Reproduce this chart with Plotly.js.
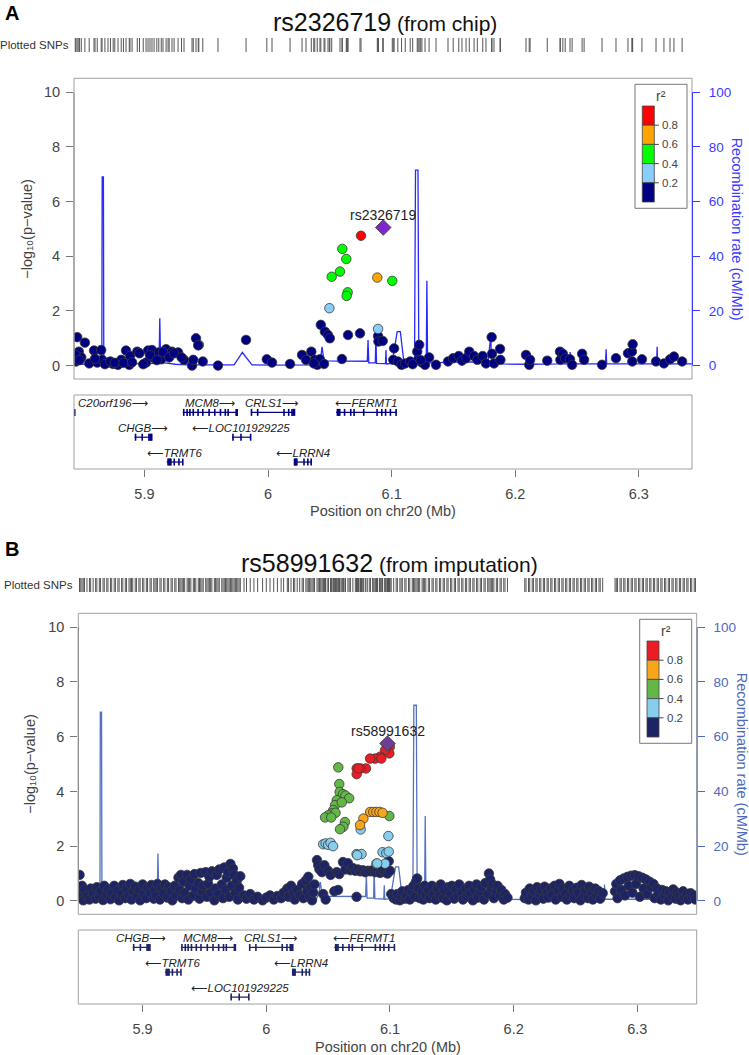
<!DOCTYPE html>
<html><head><meta charset="utf-8">
<script src="https://cdn.plot.ly/plotly-3.0.1.min.js"></script>
<style>html,body{margin:0;padding:0;background:#fff}#chart{width:749px;height:1055px}</style>
</head><body><div id="chart"></div>
<script>
// ---------------- DATA ----------------
// Panel A (rs2326719, from chip): -log10(p) by position (Mb), grouped by r2 bin
const aNavyPos = [5.8446,5.8456,5.8469,5.8489,5.8518,5.8553,5.8592,5.8618,5.8650,5.8657,
 5.8705,5.8747,5.8786,5.8812,5.8851,5.8877,5.8883,5.8942,5.9013,5.9029,
 5.9061,5.9078,5.9116,5.9136,5.9175,5.9191,5.9223,5.9272,5.9320,5.9385,
 5.9395,5.9417,5.9435,5.9472,5.9595,5.9822,5.9990,6.0032,6.0178,6.0275,
 6.0307,6.0350,6.0378,6.0398,6.0420,6.0427,6.0453,6.0460,6.0485,6.0500,
 6.0598,6.0647,6.0744,6.0890,6.0893,6.0928,6.1013,6.1020,6.1050,6.1080,
 6.1110,6.1150,6.1207,6.1214,6.1223,6.1245,6.1270,6.1303,6.1359,6.1456,
 6.1498,6.1543,6.1569,6.1602,6.1628,6.1667,6.1693,6.1737,6.1763,6.1809,
 6.1812,6.1828,6.1877,6.1880,6.2087,6.2113,6.2120,6.2259,6.2362,6.2365,
 6.2385,6.2404,6.2443,6.2460,6.2541,6.2557,6.2702,6.2815,6.2912,6.2944,
 6.2947,6.2950,6.3025,6.3139,6.3203,6.3252,6.3284,6.3350,
 5.8440,5.8475,5.8600,5.8680,5.8725,5.8760,5.8830,5.8900,5.8960,5.8990,
 5.9045,5.9100,5.9150,5.9200,5.9240,5.9300,6.0370,6.1170,6.1235];
const aNavyLogP = [0.15,1.04,0.51,0.30,0.84,0.08,0.55,0.11,0.57,0.21,
 0.11,0.06,0.03,0.21,0.55,0.03,0.35,0.51,0.11,0.55,
 0.57,0.27,0.48,0.23,0.60,0.39,0.51,0.48,0.21,0.00,
 0.21,1.00,0.74,0.15,0.00,0.94,0.23,0.11,0.06,0.39,
 0.21,0.51,0.21,0.03,0.23,1.49,0.06,1.24,1.12,1.00,
 0.24,1.12,1.18,1.08,0.88,0.90,0.21,0.63,0.15,0.03,
 0.08,0.15,0.51,0.21,0.76,0.11,0.03,0.30,0.03,0.15,
 0.27,0.35,0.18,0.27,0.51,0.35,0.21,0.35,0.08,1.04,
 0.43,0.08,0.61,0.21,0.39,0.03,0.21,0.18,0.51,0.21,
 0.43,0.27,0.23,0.03,0.43,0.21,0.03,0.27,0.45,0.51,
 0.15,0.78,0.23,0.15,0.08,0.23,0.33,0.15,
 0.40,0.20,0.25,0.05,0.15,0.10,0.10,0.12,0.45,0.05,
 0.38,0.20,0.50,0.30,0.45,0.30,0.08,0.05,0.20];
const aLightBluePos = [6.0496,6.0890];
const aLightBlueLogP = [2.10,1.34];
const aGreenPos = [6.0601,6.0633,6.0582,6.0515,6.1005,6.0644,6.0636];
const aGreenLogP = [4.27,3.90,3.44,3.25,3.10,2.68,2.55];
const aOrangePos = [6.0884];
const aOrangeLogP = [3.22];
const aRedPos = [6.0752];
const aRedLogP = [4.75];
const aGreyPos = [5.9440];
const aGreyLogP = [0.76];
const aIndexName = "rs2326719", aIndexPos = 6.0932, aIndexLogP = 5.05;

// Panel B (rs58991632, from imputation)
const bNavyPos = [
 5.849,5.849,5.850,5.851,5.852,5.853,5.855,5.857,5.858,5.860,5.862,5.863,5.865,5.866,5.868,5.869,
 5.871,5.872,5.874,5.875,5.877,5.878,5.880,5.881,5.883,5.884,5.886,5.887,5.889,5.890,
 5.891,5.892,5.894,5.895,5.897,5.898,5.900,5.901,5.903,5.904,5.906,5.907,5.909,5.910,
 5.911,5.912,5.914,5.915,5.917,5.918,5.920,5.921,5.923,5.924,5.926,5.927,5.929,5.930,
 5.931,5.932,5.933,5.934,5.936,5.937,5.938,5.939,5.941,5.942,5.943,5.945,5.946,5.947,5.948,5.949,
 5.951,5.952,5.953,5.954,5.955,5.956,5.958,5.959,5.960,5.961,5.962,5.964,5.965,5.966,5.967,5.968,5.969,5.970,5.971,5.972,5.973,5.974,5.975,5.976,5.977,5.978,5.979,
 5.982,5.984,5.987,5.990,5.993,5.997,6.000,6.003,6.006,6.009,6.012,6.014,
 6.017,6.018,6.020,6.022,6.023,6.025,6.027,6.029,6.030,6.032,6.033,6.034,6.035,6.036,6.037,6.038,6.039,
 6.041,6.042,6.043,6.044,6.045,6.046,6.047,6.048,6.050,6.052,6.055,6.057,6.058,6.059,6.062,6.064,6.066,6.068,6.070,6.072,6.073,6.074,6.076,6.078,6.080,6.082,6.084,6.086,6.088,6.090,6.092,6.094,6.096,6.098,6.099,6.100,6.101,6.103,
 6.105,6.106,6.108,6.109,6.110,6.112,6.113,6.115,6.116,6.118,6.119,6.120,6.121,6.122,6.123,6.124,6.126,6.127,6.128,6.129,
 6.131,6.132,6.134,6.135,6.137,6.138,6.140,6.141,6.143,6.144,6.146,6.147,6.149,6.150,6.152,6.153,6.155,6.156,6.158,6.159,
 6.161,6.162,6.164,6.165,6.167,6.168,6.170,6.171,6.173,6.174,6.176,6.177,6.179,6.180,6.181,6.182,6.183,6.184,6.186,6.187,6.189,6.190,6.192,6.193,6.195,
 6.209,6.210,6.212,6.213,6.215,6.216,6.218,6.219,6.221,6.222,6.224,6.225,6.227,6.228,6.230,6.231,6.233,6.234,6.236,6.237,6.239,
 6.240,6.242,6.243,6.245,6.246,6.248,6.249,6.251,6.252,6.254,6.255,6.257,6.258,6.260,6.261,6.263,6.264,6.266,6.267,6.269,6.270,6.272,
 6.282,6.283,6.284,6.286,6.287,6.289,6.290,6.292,6.293,6.295,6.296,6.298,6.299,6.301,6.302,6.304,6.305,6.307,6.308,6.310,6.311,6.313,6.314,
 6.316,6.317,6.319,6.320,6.322,6.323,6.325,6.326,6.328,6.329,6.331,6.332,6.334,6.335,6.337,6.338,6.340,6.341,6.343,6.344,6.346,6.347];
const bNavyLogP = [
 0.95,0.30,0.12,0.55,0.02,0.40,0.18,0.05,0.45,0.25,0.08,0.50,0.15,0.35,0.03,0.55,
 0.20,0.42,0.06,0.30,0.55,0.12,0.38,0.02,0.25,0.58,0.10,0.45,0.20,0.62,
 0.05,0.35,0.52,0.15,0.40,0.02,0.60,0.25,0.10,0.48,0.30,0.58,0.08,0.40,
 0.18,0.62,0.05,0.45,0.28,0.60,0.12,0.50,0.35,0.02,0.55,0.20,0.85,0.40,
 0.95,0.10,0.70,0.30,0.95,0.05,0.55,0.78,0.20,0.98,0.45,0.65,0.08,1.02,0.35,0.55,
 1.05,0.15,0.62,0.88,0.30,1.08,0.02,0.45,0.95,0.25,1.15,0.60,0.10,1.22,0.40,0.85,1.05,0.15,1.35,0.55,1.18,0.95,0.30,0.72,0.05,0.48,0.90,
 0.20,0.08,0.25,0.05,0.15,0.02,0.12,0.20,0.05,0.18,0.10,0.30,
 0.45,0.15,0.55,0.30,0.05,0.40,0.20,0.62,0.10,0.75,0.35,0.88,0.15,0.50,0.02,0.30,0.60,
 1.49,1.30,1.15,1.22,1.05,0.25,1.30,0.05,1.10,0.95,0.35,1.05,0.40,0.98,1.42,1.15,1.38,1.12,1.20,1.10,0.15,1.15,1.08,1.12,1.05,1.10,1.08,1.12,1.05,1.10,1.02,1.12,1.05,1.00,1.45,1.10,0.25,0.10,
 0.05,0.25,0.02,0.15,0.35,0.08,0.20,0.40,0.05,0.30,0.55,0.15,0.70,0.82,0.45,0.10,0.35,0.05,0.55,0.20,
 0.40,0.10,0.55,0.25,0.05,0.45,0.20,0.60,0.10,0.38,0.02,0.50,0.25,0.55,0.08,0.42,0.18,0.60,0.30,0.05,
 0.45,0.15,0.55,0.28,0.02,0.40,0.60,0.12,0.35,0.50,0.05,0.65,0.25,1.00,0.78,0.45,0.60,0.10,0.35,0.55,0.20,0.40,0.05,0.25,0.12,
 0.10,0.30,0.05,0.45,0.18,0.35,0.02,0.50,0.25,0.40,0.08,0.52,0.30,0.12,0.45,0.22,0.55,0.05,0.38,0.62,0.15,
 0.45,0.28,0.05,0.55,0.20,0.40,0.10,0.48,0.30,0.02,0.58,0.22,0.40,0.10,0.52,0.30,0.05,0.45,0.20,0.35,0.08,0.28,
 0.35,0.62,0.10,0.75,0.40,0.82,0.20,0.88,0.55,0.92,0.30,0.94,0.62,0.90,0.15,0.85,0.45,0.78,0.25,0.70,0.50,0.62,0.10,
 0.45,0.25,0.05,0.40,0.18,0.35,0.02,0.30,0.15,0.42,0.08,0.30,0.20,0.02,0.35,0.12,0.25,0.05,0.28,0.15,0.20,0.05];
const bLightBluePos = [6.046,6.048,6.050,6.052,6.054,6.0763,6.0987,6.073,6.077,6.094,6.097,6.099,6.089,6.096,6.0735,6.0897];
const bLightBlueLogP = [2.07,2.10,2.05,2.12,2.00,2.61,2.37,1.71,1.71,1.78,1.75,1.80,1.36,1.36,1.67,1.37];
const bGreenPos = [6.0582,6.0590,6.0593,6.0620,6.0640,6.0670,6.0570,6.0556,6.0542,6.0529,6.0502,6.0475,6.0560,6.0636,6.0623,6.0596,6.0995,6.0610,6.0525];
const bGreenLogP = [4.88,4.27,3.98,3.90,3.85,3.75,3.68,3.50,3.32,3.20,3.13,3.05,3.22,2.88,2.71,2.62,3.10,3.60,3.05];
const bOrangePos = [6.0840,6.0865,6.0890,6.0915,6.0940,6.0785,6.0758];
const bOrangeLogP = [3.25,3.25,3.25,3.25,3.22,3.01,2.77];
const bRedPos = [6.0999,6.0995,6.0960,6.0920,6.0879,6.0839,6.0930,6.0806,6.0763,6.0731,6.0731,6.0745];
const bRedLogP = [5.63,5.39,5.51,5.27,5.20,5.20,5.20,4.84,4.84,4.84,4.63,4.84];
const bIndexName = "rs58991632", bIndexPos = 6.098, bIndexLogP = 5.75;

// Recombination rate (cM/Mb) along chr20
const recombPos = [5.843,5.852,5.860,5.8655,5.8658,5.8668,5.8671,5.875,5.884,5.895,5.905,5.9118,5.9124,5.9131,5.918,5.925,5.935,5.950,5.965,5.9725,5.9792,5.987,6.000,6.020,6.040,6.0425,6.0437,6.0452,6.060,6.075,6.0803,6.0809,6.0815,6.0868,6.0872,6.0878,6.0950,6.0954,6.0958,6.1003,6.1045,6.1070,6.1100,6.1185,6.1193,6.1213,6.1220,6.1280,6.1285,6.1291,6.140,6.160,6.178,6.1802,6.1808,6.190,6.210,6.2340,6.2346,6.2352,6.2440,6.2444,6.2450,6.2730,6.2735,6.2740,6.3144,6.3148,6.3152,6.343];
const recombRate = [0.6,0.5,0.7,0.6,69,69,0.8,0.6,0.4,0.7,0.6,0.8,17.3,1.2,0.9,0.5,0.3,0.2,0.2,0.3,4.8,0.3,0.2,0.2,0.3,2.5,6.9,1.7,1.7,1.8,1.6,9.4,1.0,1.0,11.8,0.8,0.7,5.7,0.6,0.8,12.4,12.4,1.0,1.0,71.5,71.5,1.0,1.0,31,1.0,1.2,1.4,1.3,11,1.2,0.6,0.5,0.6,5,0.7,0.6,5,0.6,0.6,6,0.6,0.6,6.9,0.6,0.6];

// Genes
const geneNames  = ["C20orf196","CHGB","TRMT6","MCM8","LOC101929225","CRLS1","LRRN4","FERMT1"];
const geneStart  = [5.800,5.892,5.918,5.931,5.971,5.986,6.021,6.055];
const geneEnd    = [5.8438,5.906,5.931,5.975,5.986,6.021,6.035,6.104];
const geneStrand = ["+","+","-","+","-","+","-","-"];
const geneRowA   = [1,2,3,1,2,1,3,1];
const geneRowB   = [1,1,2,1,3,1,2,1];
const geneExons  = [
 [5.8436],
 [5.8928,5.8982,5.9036,5.9045,5.9052,5.9059],
 [5.9191,5.9200,5.9207,5.9214,5.9241,5.9279,5.9310],
 [5.9318,5.9345,5.9368,5.9395,5.9434,5.9472,5.9523,5.9569,5.9615,5.9654,5.9677,5.9742,5.9750],
 [5.9716,5.9781,5.9859],
 [5.9866,5.9916,6.0129,6.0167,6.0194,6.0204,6.0214],
 [6.0214,6.0220,6.0227,6.0233,6.0291,6.0322,6.0349],
 [6.0561,6.0570,6.0580,6.0619,6.0669,6.0696,6.0774,6.0882,6.0920,6.0951,6.0990,6.1036]
];

// r2 legend
const ldBreakLabels = ["0.8","0.6","0.4","0.2"];

// ---------------- LAYOUT / STYLE ----------------
const W = 749, H = 1055;
const FONT = "Liberation Sans, Arial, Helvetica, sans-serif";
const GFONT = "Liberation Sans, DejaVu Sans, sans-serif";
const px = v => v / W;
const py = v => 1 - v / H;
const axName = (id) => (id.length === 1 ? id + 'axis' : id[0] + 'axis' + id.slice(1));
const ctx = document.createElement('canvas').getContext('2d');
const textW = (t, size) => { ctx.font = size + 'px "Liberation Sans", Arial, sans-serif'; return ctx.measureText(t).width; };

const panels = [
 {letter:'A', name:aIndexName, sub:'(from chip)', L:74, R:692, T:78.3, B:379, rugT:38, rugB:52, gT:395, gB:469,
  letterY:13, titleY:22, rugLabelY:45, xr:[5.843,6.343], ytitleX:27, rtitleX:737, xtitleY:511,
  ids:{x:'x',yr:'y',yp:'y2',xrug:'x2',yrug:'y3',xg:'x3',yg:'y4'},
  recColor:'rgb(40,40,255)', axBlue:'rgb(60,60,255)', geneColor:'#000080',
  colors:['#000080','#87CEFA','#00FF00','#FFA500','#FF0000'], grey:'#8c8c8c', purple:'#7D26CD',
  cats:[[aNavyPos,aNavyLogP],[aLightBluePos,aLightBlueLogP],[aGreenPos,aGreenLogP],[aOrangePos,aOrangeLogP],[aRedPos,aRedLogP]],
  greyCat:[aGreyPos,aGreyLogP], idx:[aIndexPos,aIndexLogP], rows:geneRowA},
 {letter:'B', name:bIndexName, sub:'(from imputation)', L:78.3, R:696.7, T:613.3, B:914.3, rugT:578, rugB:592, gT:930, gB:1004,
  letterY:549, titleY:563, rugLabelY:585, xr:[5.848,6.348], ytitleX:30, rtitleX:742, xtitleY:1047,
  ids:{x:'x4',yr:'y5',yp:'y6',xrug:'x5',yrug:'y7',xg:'x6',yg:'y8'},
  recColor:'rgb(84,114,192)', axBlue:'rgb(80,106,185)', geneColor:'#1d2466',
  colors:['#1d2466','#87CDED','#62B746','#F8A51B','#EC1C24'], grey:'#8c8c8c', purple:'#6E3D96',
  cats:[[bNavyPos,bNavyLogP],[bLightBluePos,bLightBlueLogP],[bGreenPos,bGreenLogP],[bOrangePos,bOrangeLogP],[bRedPos,bRedLogP]],
  greyCat:null, idx:[bIndexPos,bIndexLogP], rows:geneRowB}
];

const traces = [], shapes = [], annotations = [];
const layout = {width:W, height:H, margin:{l:0,r:0,t:0,b:0}, showlegend:false,
  paper_bgcolor:'#fff', plot_bgcolor:'rgba(0,0,0,0)', font:{family:FONT, color:'#444'}};

panels.forEach(P => {
  const I = P.ids;
  const xdom = [px(P.L), px(P.R)];
  layout[axName(I.x)] = {domain:xdom, range:P.xr, anchor:I.yr, showticklabels:false, ticks:'', showgrid:false, zeroline:false, showline:false, fixedrange:true};
  layout[axName(I.yr)] = {domain:[py(P.B), py(P.T)], range:[-4.9,105.1], anchor:I.x, side:'right',
    tickvals:[0,20,40,60,80,100], ticks:'outside', ticklen:7, tickcolor:P.axBlue, tickwidth:1,
    tickfont:{size:13.5, color:P.axBlue, family:FONT}, ticklabelstandoff:6, showgrid:false, zeroline:false, showline:false};
  layout[axName(I.yp)] = {range:[-0.49,10.51], overlaying:I.yr, anchor:I.x, side:'left',
    tickvals:[0,2,4,6,8,10], ticks:'outside', ticklen:7, tickcolor:'#777', tickwidth:1,
    tickfont:{size:14.5, color:'#444', family:FONT}, ticklabelstandoff:3, showgrid:false, zeroline:false, showline:false};
  layout[axName(I.xrug)] = {domain:xdom, range:P.xr, anchor:I.yrug, visible:false};
  layout[axName(I.yrug)] = {domain:[py(P.rugB), py(P.rugT)], range:[0,1], anchor:I.xrug, visible:false};
  layout[axName(I.xg)] = {domain:xdom, range:P.xr, anchor:I.yg, side:'bottom',
    tickvals:[5.9,6.0,6.1,6.2,6.3], ticktext:['5.9','6','6.1','6.2','6.3'], ticks:'outside', ticklen:7,
    tickcolor:'#777', tickfont:{size:14.5, color:'#444', family:FONT}, ticklabelstandoff:5,
    showgrid:false, zeroline:false, showline:false};
  layout[axName(I.yg)] = {domain:[py(P.gB), py(P.gT)], range:[3.28,0.30], anchor:I.xg, visible:false};

  // recombination line
  traces.push({type:'scatter', mode:'lines', x:recombPos, y:recombRate, xaxis:I.x, yaxis:I.yr,
    line:{color:P.recColor, width:1.3}, hoverinfo:'skip'});
  // SNPs
  const mk = (c) => ({size:9.5, color:c, line:{color:'#3a3a3a', width:0.8}});
  if (P.greyCat) traces.push({type:'scatter', mode:'markers', x:P.greyCat[0], y:P.greyCat[1], xaxis:I.x, yaxis:I.yp, marker:mk(P.grey)});
  P.cats.forEach((c, k) => {
    traces.push({type:'scatter', mode:'markers', x:c[0], y:c[1], xaxis:I.x, yaxis:I.yp, marker:mk(P.colors[k])});
  });
  traces.push({type:'scatter', mode:'markers', x:[P.idx[0]], y:[P.idx[1]], xaxis:I.x, yaxis:I.yp,
    marker:{symbol:'diamond', size:12, color:P.purple, line:{color:'#3a3a3a', width:0.8}}});
  annotations.push({xref:I.x, yref:I.yp, x:P.idx[0], y:P.idx[1], text:P.name, showarrow:false,
    yshift:13, yanchor:'middle', font:{size:14, color:'#222', family:FONT}});

  // rug of plotted SNPs
  let allPos = [];
  P.cats.forEach(c => { allPos = allPos.concat(c[0]); });
  if (P.greyCat) allPos = allPos.concat(P.greyCat[0]);
  allPos.push(P.idx[0]);
  traces.push({type:'scatter', mode:'markers', x:allPos, y:allPos.map(() => 0.5), xaxis:I.xrug, yaxis:I.yrug,
    marker:{symbol:'line-ns', size:P.rugB - P.rugT, line:{color:'#555', width:1}}, hoverinfo:'skip'});
  annotations.push({xref:'paper', yref:'paper', x:px(P.L - 3), y:py(P.rugLabelY), xanchor:'right', yanchor:'middle',
    text:'Plotted SNPs', showarrow:false, font:{size:11.5, color:'#333', family:FONT}});

  // genes
  geneNames.forEach((g, k) => {
    if (geneEnd[k] < P.xr[0] || geneStart[k] > P.xr[1]) return;
    const row = P.rows[k];
    traces.push({type:'scatter', mode:'lines', x:[geneStart[k], geneEnd[k]], y:[row,row], xaxis:I.xg, yaxis:I.yg,
      line:{color:P.geneColor, width:1.2}, hoverinfo:'skip'});
    traces.push({type:'scatter', mode:'markers', x:geneExons[k], y:geneExons[k].map(() => row), xaxis:I.xg, yaxis:I.yg,
      marker:{symbol:'line-ns', size:5, line:{color:P.geneColor, width:1.6}}, hoverinfo:'skip'});
    const ctr = (geneStart[k] + geneEnd[k]) / 2;
    const label = geneStrand[k] === '+' ? geneNames[k] + '\u27F6' : '\u27F5' + geneNames[k];
    const clipped = ctr < P.xr[0] + 0.02;
    annotations.push({xref:I.xg, yref:I.yg, x: clipped ? P.xr[0] + 0.0015 : ctr, y:row, yshift:9, yanchor:'middle',
      xanchor: clipped ? 'left' : 'center', text:'<i>' + label + '</i>', showarrow:false,
      font:{size:11.5, color:'#222', family:GFONT}});
  });

  // frames
  shapes.push({type:'rect', xref:'paper', yref:'paper', x0:px(P.L), x1:px(P.R), y0:py(P.B), y1:py(P.T), line:{color:'#a0a0a0', width:1}});
  shapes.push({type:'rect', xref:'paper', yref:'paper', x0:px(P.L), x1:px(P.R), y0:py(P.gB), y1:py(P.gT), line:{color:'#a0a0a0', width:1}});
  shapes.push({type:'line', xref:'paper', yref:I.yr, x0:px(P.R + 0.5), x1:px(P.R + 0.5), y0:0, y1:100, line:{color:P.axBlue, width:1}});
  shapes.push({type:'line', xref:'paper', yref:I.yp, x0:px(P.L), x1:px(P.L), y0:0, y1:10, line:{color:'#888', width:1}});

  // r2 legend box
  const bL = P.R - 57, bR = P.R - 5, bT = P.T + 6, bB = P.T + 130;
  const barL = bL + 7.3, barR = bL + 19.3, barT = P.T + 27.7, rh = 19.2;
  shapes.push({type:'rect', xref:'paper', yref:'paper', x0:px(bL), x1:px(bR), y0:py(bB), y1:py(bT), line:{color:'#777', width:1}, fillcolor:'#fff'});
  const legColors = P.colors.slice().reverse();
  legColors.forEach((c, k) => {
    shapes.push({type:'rect', xref:'paper', yref:'paper', x0:px(barL), x1:px(barR), y0:py(barT + (k+1)*rh), y1:py(barT + k*rh),
      line:{color:'#444', width:0.8}, fillcolor:c});
  });
  ldBreakLabels.forEach((t, k) => {
    const yy = barT + (k+1)*rh;
    shapes.push({type:'line', xref:'paper', yref:'paper', x0:px(barR), x1:px(barR + 4.5), y0:py(yy), y1:py(yy), line:{color:'#444', width:1}});
    annotations.push({xref:'paper', yref:'paper', x:px(barR + 5.5), y:py(yy), xanchor:'left', yanchor:'middle', text:t,
      showarrow:false, font:{size:11.5, color:'#444', family:FONT}});
  });
  annotations.push({xref:'paper', yref:'paper', x:px(bL + 26), y:py(P.T + 18), xanchor:'center', yanchor:'middle',
    text:'r\u00B2', showarrow:false, font:{size:14, color:'#444', family:FONT}});

  // panel letter and title (two parts of different sizes)
  annotations.push({xref:'paper', yref:'paper', x:px(12), y:py(P.letterY), xanchor:'center', yanchor:'middle', text:'<b>' + P.letter + '</b>',
    showarrow:false, font:{size:20, color:'#000', family:FONT}});
  const s1 = 25, s2 = 21, gap = 6;
  const w1 = textW(P.name, s1), w2 = textW(P.sub, s2);
  const tx0 = (P.L + P.R)/2 - (w1 + gap + w2)/2;
  annotations.push({xref:'paper', yref:'paper', x:px(tx0), y:py(P.titleY), xanchor:'left', yanchor:'middle',
    text:P.name, showarrow:false, font:{size:s1, color:'#111', family:FONT}});
  annotations.push({xref:'paper', yref:'paper', x:px(tx0 + w1 + gap), y:py(P.titleY + 1), xanchor:'left', yanchor:'middle',
    text:P.sub, showarrow:false, font:{size:s2, color:'#111', family:FONT}});
  // axis titles
  annotations.push({xref:'paper', yref:'paper', x:px(P.ytitleX), y:py((P.T + P.B)/2), xanchor:'center', yanchor:'middle', textangle:-90,
    text:'\u2212log\u2081\u2080(p\u2212value)', showarrow:false, font:{size:14.5, color:'#444', family:FONT}});
  annotations.push({xref:'paper', yref:'paper', x:px(P.rtitleX), y:py((P.T + P.B)/2), xanchor:'center', yanchor:'middle', textangle:90,
    text:'Recombination rate (cM/Mb)', showarrow:false, font:{size:14.5, color:P.axBlue, family:FONT}});
  annotations.push({xref:'paper', yref:'paper', x:px((P.L + P.R)/2), y:py(P.xtitleY), xanchor:'center', yanchor:'middle',
    text:'Position on chr20 (Mb)', showarrow:false, font:{size:14.5, color:'#444', family:FONT}});
});

layout.shapes = shapes;
layout.annotations = annotations;
Plotly.newPlot('chart', traces, layout, {staticPlot:true, displayModeBar:false});
</script></body></html>
